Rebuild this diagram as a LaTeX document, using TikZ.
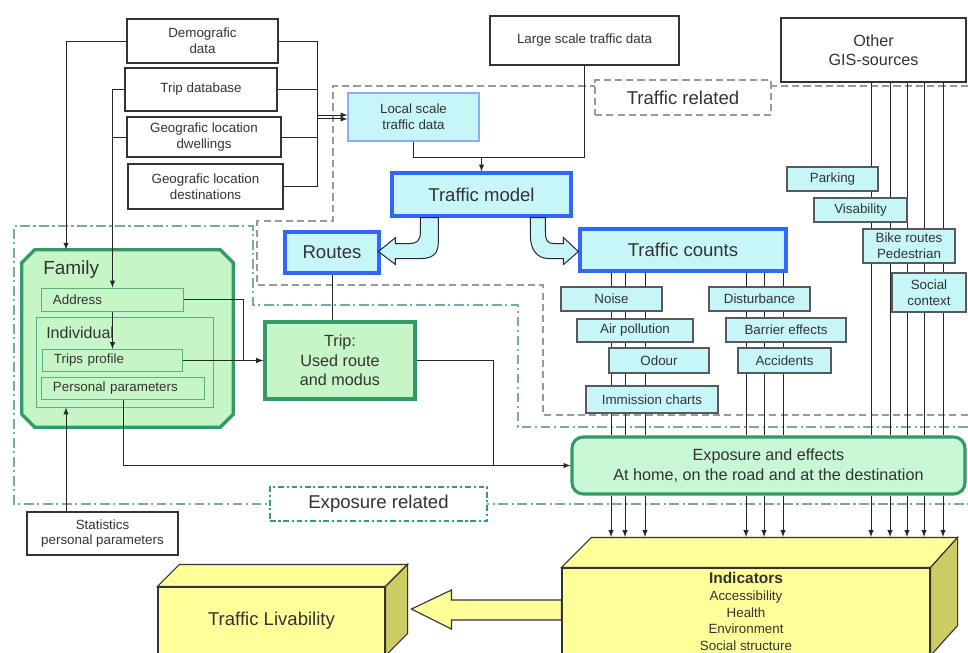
\documentclass[tikz,border=0pt]{standalone}
\usepackage{fontspec}
\setmainfont{Liberation Sans}
\usetikzlibrary{arrows,shapes,positioning,calc}

\definecolor{cyanfill}{HTML}{C6F6F8}
\definecolor{bluebd}{HTML}{3366FF}
\definecolor{greenfill}{HTML}{C6F5C6}
\definecolor{greenbd}{HTML}{339966}
\definecolor{mintfill}{HTML}{C8F7D6}
\definecolor{yellowfill}{HTML}{FFFF99}
\definecolor{yellowside}{HTML}{CCCC66}
\definecolor{regiongray}{HTML}{999999}
\definecolor{regionteal}{HTML}{77AAAA}
\definecolor{labelteal}{HTML}{339988}
\definecolor{textgray}{HTML}{333333}

\begin{document}
\begin{tikzpicture}[x=0.025cm, y=-0.025cm,
    sz/.style 2 args={minimum width=#1*0.025cm, minimum height=#2*0.025cm},
    fsmall/.style={font=\fontsize{9.5}{11.3}\selectfont},
    fmid/.style={font=\fontsize{11.5}{13.8}\selectfont},
    flarge/.style={font=\fontsize{13.2}{15.8}\selectfont},
    src/.style={draw=black!80, fill=white, line width=0.8pt, inner sep=0pt, align=center, fsmall, text=textgray},
    effect/.style={draw=black!65, fill=cyanfill, line width=0.8pt, inner sep=0pt, align=center, fsmall, text=textgray},
    core/.style={draw=bluebd, line width=2.2pt, fill=cyanfill, inner sep=0pt, flarge, text=textgray},
    famrow/.style={draw=greenbd!80, line width=0.7pt, fill=greenfill, inner xsep=0.275cm, inner ysep=0pt, fsmall, text=textgray, align=left},
    link/.style={draw=black!85, line width=0.7pt},
    arr/.style={link, -latex},
    trafzone/.style={draw=regiongray, line width=1pt, dash pattern=on 5pt off 3pt},
    expozone/.style={draw=regionteal, line width=1pt, dash pattern=on 7pt off 2.5pt on 1.5pt off 2.5pt},
    block/.style={draw=black!80, line width=0.8pt, fill=yellowfill, inner sep=0pt, text=textgray}]
    \useasboundingbox (0,0) rectangle (968,652);
    \clip (0,0) rectangle (968,652);

    % Zones
    \draw[trafzone] (968,86) -- (333,86) -- (333,221) -- (257,221) -- (257,285) -- (543,285) -- (543,415) -- (968,415);
    \draw[expozone] (968,427) -- (518,427) -- (518,305) -- (253,305) -- (253,226) -- (14,226) -- (14,504) -- (968,504);
    \node[trafzone, fill=white, sz={176}{35}, flarge, text=textgray] (trafrel) at (683,97.5) {Traffic related};
    \node[draw=labelteal, line width=1.3pt, dash pattern=on 4pt off 2pt on 1.5pt off 2pt, fill=white, sz={217}{34}, flarge, text=textgray] (exporel) at (378.5,504) {Exposure related};

    % Data sources
    \node[src, sz={151}{44}] (demo) at (202.5,41) {Demografic\\data};
    \node[src, sz={152}{43}] (tripdb) at (201,89.5) {Trip database};
    \node[src, sz={154}{40}] (dwell) at (204,137) {Geografic location\\dwellings};
    \node[src, sz={155}{45}] (dest) at (205.5,186.5) {Geografic location\\destinations};
    \node[src, sz={189}{49}] (large) at (584.5,40.5) {Large scale traffic data};
    \node[src, sz={185}{64}, fmid] (gis) at (873.5,50) {Other\\GIS-sources};
    \node[src, sz={151}{43}] (stats) at (102.5,533.5) {Statistics\\personal parameters};

    % Traffic model
    \node[effect, draw=bluebd!55, sz={131}{48}] (local) at (413.5,117) {Local scale\\traffic data};
    \node[core, sz={179}{43}] (model) at (481.5,194.5) {Traffic model};
    \node[core, sz={94}{41}] (routes) at (332,252.5) {Routes};
    \node[core, sz={206}{42}] (counts) at (683,250) {Traffic counts};

    % Family and trip
    \node[sz={211}{177}, inner sep=0pt] (family) at (127.5,338.5) {};
    \draw[draw=greenbd, line width=2.4pt, fill=greenfill]
        ([shift={(13,0)}]family.north west) -- ([shift={(-13,0)}]family.north east)
        -- ([shift={(0,13)}]family.north east) -- ([shift={(0,-13)}]family.south east)
        -- ([shift={(-13,0)}]family.south east) -- ([shift={(13,0)}]family.south west)
        -- ([shift={(0,-13)}]family.south west) -- ([shift={(0,13)}]family.north west) -- cycle;
    \node[font=\fontsize{13.5}{16}\selectfont, text=textgray, anchor=west, inner sep=0pt] (famlab) at (43,270) {Family};
    \node[draw=greenbd!80, line width=0.7pt, fill=greenfill, sz={177}{90}, inner sep=0pt] (indiv) at (124.5,362) {};
    \node[font=\fontsize{11.4}{13}\selectfont, text=textgray, anchor=west, inner sep=0pt] (indlab) at (46,333) {Individual};
    \node[famrow, text width=2.975cm, minimum height=0.575cm] (address) at (112.5,299.5) {Address};
    \node[famrow, text width=2.925cm, minimum height=0.55cm] (tprof) at (112.5,360.5) {Trips profile};
    \node[famrow, text width=3.5cm, minimum height=0.55cm] (ppar) at (123,388) {Personal parameters};
    \node[draw=greenbd, line width=2.8pt, fill=greenfill, sz={150}{77}, inner sep=0pt, align=center, fmid, text=textgray] (trip) at (340,360.5) {Trip:\\Used route\\and modus};

    % Exposure
    \node[draw=greenbd, line width=2.2pt, fill=mintfill, rounded corners=8pt, sz={393}{57}, inner sep=0pt, align=center, fmid, text=textgray] (expo) at (768.5,465.5) {Exposure and effects\\At home, on the road and at the destination};

    % Lines behind the effect boxes
    \foreach \x [count=\i] in {611,625,645,746,764,783,871,890,907,924,943}
        \coordinate (v\i) at (\x,0);
    \foreach \i in {1,...,6}
        \draw[link] (counts.south -| v\i) -- (expo.north -| v\i);
    \foreach \i in {7,...,11}
        \draw[link] (gis.south -| v\i) -- (expo.north -| v\i);

    % Effects
    \node[effect, sz={101}{24}] (noise) at (611.5,299) {Noise};
    \node[effect, sz={116}{23}] (air) at (635,330.5) {Air pollution};
    \node[effect, sz={100}{25}] (odour) at (659,360.5) {Odour};
    \node[effect, sz={132}{27}] (immis) at (652,399.5) {Immission charts};
    \node[effect, sz={101}{24}] (dist) at (759.5,299) {Disturbance};
    \node[effect, sz={120}{24}] (barrier) at (786,330) {Barrier effects};
    \node[effect, sz={93}{25}] (acc) at (784.5,360.5) {Accidents};
    \node[effect, sz={91}{24}] (park) at (832.5,179) {Parking};
    \node[effect, sz={93}{24}] (visa) at (860.5,210) {Visability};
    \node[effect, sz={92}{34}] (bike) at (909,246) {Bike routes\\Pedestrian};
    \node[effect, sz={74}{39}] (social) at (929,292.5) {Social\\context};

    % Fat arrows out of the model
    \draw[link, fill=cyanfill] ([shift={(30,0)}]model.south west) -- ++(0,14) .. controls +(0,10) and +(8,0) .. ++(-12,12)
        -- ++(-13,0) -- ++(0,-6) -- ++(-17,14) -- ++(17,13) -- ++(0,-6) -- ++(25,0)
        .. controls +(18,0) and +(0,12) .. ++(18,-22) -- ++(0,-19) -- cycle;
    \draw[link, fill=cyanfill] ([shift={(140,0)}]model.south west) -- ++(0,19) .. controls +(0,12) and +(-12,0) .. ++(18,22)
        -- ++(15,0) -- ++(0,6) -- ++(15,-13) -- ++(-15,-14) -- ++(0,6) -- ++(-8,0)
        .. controls +(-8,0) and +(0,10) .. ++(-10,-12) -- ++(0,-14) -- cycle;

    % Connectors
    \coordinate (mg) at (317,117);
    \coordinate (jn) at (481.5,157);
    \coordinate (famx) at (66,0);
    \coordinate (ax) at (243,0);
    \coordinate (tx) at (493,0);
    \draw[link] (demo.east) -| (mg);
    \draw[link] (tripdb.east) -- (tripdb.east -| mg);
    \draw[link] (dwell.east) -- (dwell.east -| mg);
    \draw[link] (dest.east) -| (mg);
    \draw[arr] ([yshift=1.4pt]mg) -- ([yshift=1.4pt]local.west);
    \draw[arr] ([yshift=-1.4pt]mg) -- ([yshift=-1.4pt]local.west);
    \draw[link] (local.south) |- (jn);
    \draw[link] (large.south) |- (jn);
    \draw[arr] (jn) -- (model.north);
    \draw[arr] (demo.west) -| (family.north -| famx);
    \draw[arr] (tripdb.west) -| (address.north);
    \draw[link] (dwell.west) -- (dwell.west -| address.north);
    \draw[arr] (address.south) -- (tprof.north);
    \draw[arr] (stats.north -| famx) -- (indiv.south -| famx);
    \draw[arr] (address.east) -| (ax |- trip.west) -- (trip.west);
    \draw[arr] (tprof.east) -- (trip.west);
    \draw[link] (routes.south) -- (routes.south |- trip.north);
    \draw[link] (trip.east) -| (tx |- expo.west);
    \draw[arr] (ppar.south) |- (expo.west);

    % Results
    \node[block, sz={227}{68}, flarge] (livab) at (271.5,621) {Traffic Livability};
    \draw[block] (livab.north west) -- ++(22,-22) -- ([shift={(22,-22)}]livab.north east) -- (livab.north east) -- cycle;
    \draw[block, fill=yellowside] (livab.north east) -- ++(22,-22) -- ([shift={(22,-22)}]livab.south east) -- (livab.south east) -- cycle;
    \node[block, sz={368}{87}, align=center, font=\fontsize{9.5}{11.9}\selectfont] (indic) at (746,611.5)
        {{\fontsize{11}{11.9}\selectfont\bfseries Indicators}\\Accessibility\\Health\\Environment\\Social structure};
    \draw[block] (indic.north west) -- ++(30,-30) -- ([shift={(27,-30)}]indic.north east) -- (indic.north east) -- cycle;
    \draw[block, fill=yellowside] (indic.north east) -- ++(27,-30) -- ([shift={(27,-30)}]indic.south east) -- (indic.south east) -- cycle;
    \draw[block] ([shift={(0,-11.5)}]indic.west) -- ++(-110,0) -- ++(0,-10) -- ++(-40,19) -- ++(40,20) -- ++(0,-9) -- ++(110,0) -- cycle;
    \coordinate (itop) at (0,537);
    \foreach \i in {1,...,11}
        \draw[arr] (expo.south -| v\i) -- (itop -| v\i);
\end{tikzpicture}
\end{document}
